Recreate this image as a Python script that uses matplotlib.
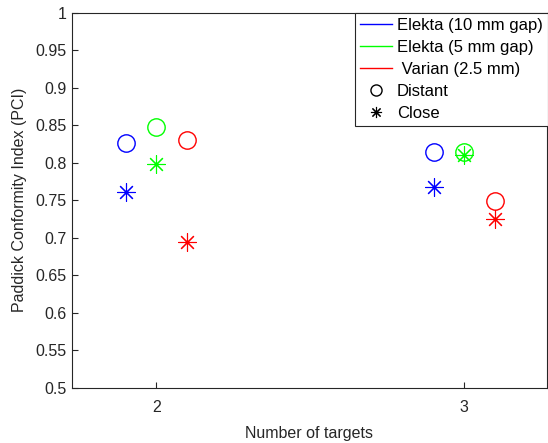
import matplotlib.pyplot as plt
from matplotlib.lines import Line2D

plt.rcParams['font.family'] = ['Liberation Sans', 'DejaVu Sans']

targets = [2, 3]
offsets = [-0.1, 0.0, 0.1]
names = ['Elekta (10 mm gap)', 'Elekta (5 mm gap)', ' Varian (2.5 mm)']
colors = ['#0000ff', '#00ff00', '#ff0000']

# PCI values per machine, for 2 and 3 targets
distant = [[0.827, 0.814], [0.848, 0.814], [0.830, 0.749]]
close = [[0.761, 0.768], [0.799, 0.810], [0.694, 0.725]]

fig = plt.figure(figsize=(5.48, 4.43), dpi=100)
ax = fig.add_axes([0.131, 0.125, 0.867, 0.846])
star = (8, 2, 0)

for i in range(3):
    xs = [t + offsets[i] for t in targets]
    ax.plot(xs, distant[i], linestyle='none', marker='o', markersize=12.5,
            markerfacecolor='none', markeredgecolor=colors[i], markeredgewidth=1)
    ax.plot(xs, close[i], linestyle='none', marker=star, markersize=13,
            markeredgecolor=colors[i], markeredgewidth=0.8)

ax.set_xlim(1.725, 3.268)
ax.set_ylim(0.5, 1.0)
ax.set_xticks(targets)
ax.set_yticks([0.5, 0.55, 0.6, 0.65, 0.7, 0.75, 0.8, 0.85, 0.9, 0.95, 1.0])
ax.set_yticklabels(['0.5', '0.55', '0.6', '0.65', '0.7', '0.75', '0.8', '0.85', '0.9', '0.95', '1'])
ax.tick_params(direction='in', length=4, labelsize=11.5, colors='#262626', width=0.8)
ax.tick_params(axis='x', pad=9)
for s in ax.spines.values():
    s.set_color('#262626')
    s.set_linewidth(0.8)
ax.set_xlabel('Number of targets', fontsize=11.5, color='#262626', labelpad=8)
ax.set_ylabel('Paddick Conformity Index (PCI)', fontsize=11.5, color='#262626', labelpad=6)

handles = [Line2D([], [], color=c, lw=1) for c in colors]
handles.append(Line2D([], [], color='k', marker='o', linestyle='none',
                      markerfacecolor='none', markersize=8))
handles.append(Line2D([], [], color='k', marker=star, linestyle='none', markersize=8,
                      markeredgewidth=0.8))
leg = fig.legend(handles, names + ['Distant', 'Close'], loc='upper right',
                 bbox_to_anchor=(1.0, 1 - 13 / 443), borderaxespad=0, fontsize=12,
                 fancybox=False, framealpha=1, edgecolor='#262626', handlelength=1.95,
                 handletextpad=0.3, labelspacing=0.42, borderpad=0.3)
leg.get_frame().set_linewidth(0.8)

fig.savefig('out.png', dpi=100)
